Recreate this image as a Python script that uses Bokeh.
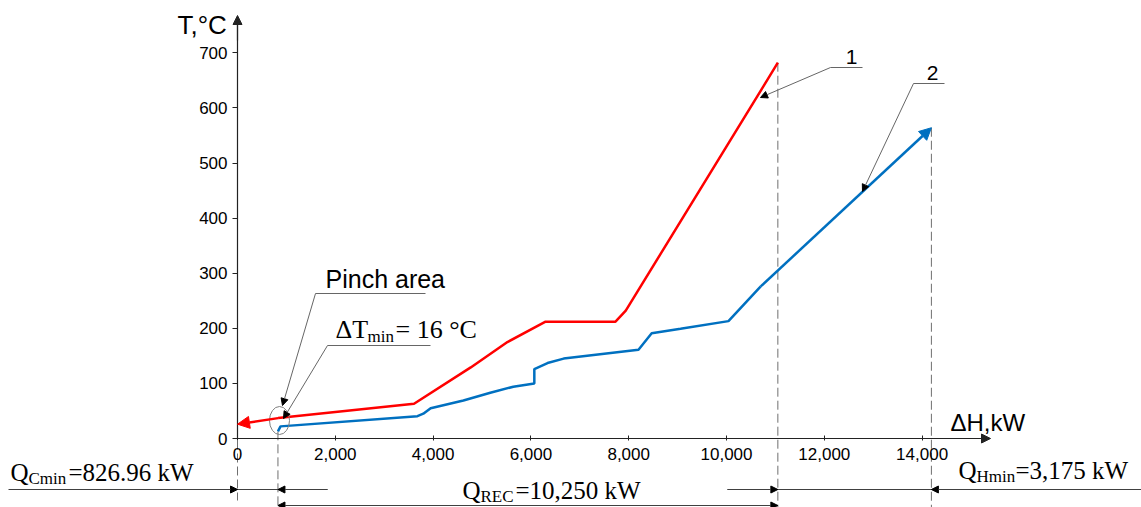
from bokeh.plotting import figure
from bokeh.models import Range1d, FixedTicker, NumeralTickFormatter, Label, Arrow, NormalHead
from bokeh.embed import file_html
from bokeh.resources import INLINE

# ---------------- data ----------------
hot_dh = [0, 830, 3610, 4770, 5520, 6300, 7730, 7940, 11050]
hot_t = [26, 37, 63, 129, 175, 212, 212, 232, 682]

cold_dh = [826.96, 880, 3680, 3800, 3950, 4620, 5170, 5640, 6070, 6070, 6340, 6670, 8200, 8470, 9060, 10040, 10700, 14190]
cold_t = [13, 22, 40.5, 45, 55, 69, 83, 94, 100, 126, 137, 145, 161, 191, 199, 213, 276, 564]

x_ticks = [0, 2000, 4000, 6000, 8000, 10000, 12000, 14000]
y_ticks = [0, 100, 200, 300, 400, 500, 600, 700]

q_cmin = 826.96
q_rec_end = 11050
q_hmin_end = 14190

RED = "#FF0000"
BLUE = "#0070C0"
SANS = "Liberation Sans"
SERIF = "Liberation Serif"

# page-pixel -> data helpers (for annotation placement)
X0, KX = 237.0, 0.0489
Y0, KY = 438.0, 0.551


def dx(px):
    return (px - X0) / KX


def dy(py):
    return (Y0 - py) / KY


W, H = 1141, 507
p = figure(width=W, height=H, output_backend="svg", toolbar_location=None,
           x_range=Range1d(dx(0), dx(W)), y_range=Range1d(dy(H), dy(0)),
           min_border=0, min_border_left=0, min_border_right=0,
           min_border_top=0, min_border_bottom=0)
p.outline_line_color = None
p.xgrid.visible = False
p.ygrid.visible = False
p.background_fill_color = "white"
p.border_fill_color = "white"

# axes at fixed locations
for ax in (p.xaxis[0], p.yaxis[0]):
    ax.fixed_location = 0
    ax.axis_line_color = "#222222"
    ax.axis_line_width = 1.2
    ax.major_tick_line_color = "#222222"
    ax.minor_tick_line_color = None
    ax.major_label_text_font = SANS
    ax.major_label_text_font_size = "17px"
    ax.major_label_text_color = "black"

p.xaxis[0].ticker = FixedTicker(ticks=x_ticks)
p.xaxis[0].formatter = NumeralTickFormatter(format="0,0")
p.xaxis[0].bounds = (0, dx(988))
p.xaxis[0].major_tick_in = 3
p.xaxis[0].major_tick_out = 2
p.xaxis[0].major_label_standoff = 7

p.yaxis[0].ticker = FixedTicker(ticks=y_ticks)
p.yaxis[0].bounds = (0, dy(17))
p.yaxis[0].major_tick_in = 0
p.yaxis[0].major_tick_out = 5
p.yaxis[0].major_label_standoff = 5

# axis arrowheads
p.add_layout(Arrow(end=NormalHead(size=9, fill_color="#222222", line_color="#222222"),
                   x_start=0, y_start=dy(40), x_end=0, y_end=dy(15),
                   line_color="#222222", line_width=1.2))
p.add_layout(Arrow(end=NormalHead(size=9, fill_color="#222222", line_color="#222222"),
                   x_start=dx(960), y_start=0, x_end=dx(990), y_end=0,
                   line_color="#222222", line_width=1.2))

# dashed verticals
DASH = "#6f6f6f"
p.segment(x0=[0], y0=[dy(440)], x1=[0], y1=[dy(500)], line_color=DASH, line_dash="9 4", line_width=1)
p.segment(x0=[q_cmin], y0=[cold_t[0]], x1=[q_cmin], y1=[dy(507)], line_color=DASH, line_dash="9 4", line_width=1)
p.segment(x0=[q_rec_end], y0=[hot_t[-1]], x1=[q_rec_end], y1=[dy(507)], line_color=DASH, line_dash="9 4", line_width=1)
p.segment(x0=[q_hmin_end], y0=[cold_t[-1]], x1=[q_hmin_end], y1=[dy(507)], line_color=DASH, line_dash="9 4", line_width=1)

# composite curves
p.line(hot_dh[1:], hot_t[1:], line_color=RED, line_width=2.5)
p.add_layout(Arrow(end=NormalHead(size=12, fill_color=RED, line_color=RED),
                   x_start=hot_dh[1], y_start=hot_t[1], x_end=hot_dh[0], y_end=hot_t[0],
                   line_color=RED, line_width=2.5))
p.line(cold_dh[:-1], cold_t[:-1], line_color=BLUE, line_width=2.5)
p.add_layout(Arrow(end=NormalHead(size=12, fill_color=BLUE, line_color=BLUE),
                   x_start=cold_dh[-2], y_start=cold_t[-2], x_end=cold_dh[-1], y_end=cold_t[-1],
                   line_color=BLUE, line_width=2.5))

# pinch ellipse
p.ellipse(x=[dx(279)], y=[dy(420)], width=20, height=28, width_units="screen",
          height_units="screen", fill_alpha=0, line_color="#808080", line_width=1)

LEAD = "#666666"


def leader(hx0, hx1, hy, tipx, tipy):
    p.segment(x0=[dx(hx0)], y0=[dy(hy)], x1=[dx(hx1)], y1=[dy(hy)], line_color=LEAD, line_width=1)
    p.add_layout(Arrow(end=NormalHead(size=7, fill_color="black", line_color="black"),
                       x_start=dx(hx0), y_start=dy(hy), x_end=dx(tipx), y_end=dy(tipy),
                       line_color=LEAD, line_width=1))


leader(315, 425, 293, 282, 405)
leader(327, 430, 345, 283, 418)
leader(830, 862, 67, 760, 97)
leader(913, 944, 83, 862, 191)


def label(px, base, text, size, font=SANS, align="left"):
    # base = baseline in page pixels; place by vertical middle of the em box
    p.add_layout(Label(x=dx(px), y=dy(base - 0.34 * size), text=text, text_font=font,
                       text_font_size=f"{size}px", text_align=align,
                       text_baseline="middle", text_color="black"))


label(177, 33, "T,°C", 26)
label(950, 430, "ΔH,kW", 24)
label(851, 64, "1", 21, align="center")
label(932, 80, "2", 21, align="center")
label(325, 287, "Pinch area", 25)

# ΔTmin = 16 °C
label(335, 338, "ΔT", 26, SERIF)
label(367, 342, "min", 17, SERIF)
label(395, 338, "= 16 °C", 26, SERIF)

# QCmin
label(10, 480, "Q", 25, SERIF)
label(28, 484, "Cmin", 17, SERIF)
label(68, 480, "=826.96 kW", 25, SERIF)

# QREC
label(462, 498, "Q", 25, SERIF)
label(480, 502, "REC", 17, SERIF)
label(515, 498, "=10,250 kW", 25, SERIF)

# QHmin
label(958, 478, "Q", 25, SERIF)
label(976, 482, "Hmin", 17, SERIF)
label(1015, 478, "=3,175 kW", 25, SERIF)

# dimension lines
DIM = "#404040"


def head(sx, tx, y):
    p.add_layout(Arrow(end=NormalHead(size=7, fill_color="black", line_color="black"),
                       x_start=sx, y_start=dy(y), x_end=tx, y_end=dy(y),
                       line_color=DIM, line_width=1))


p.segment(x0=[dx(8)], y0=[dy(489)], x1=[dx(327)], y1=[dy(489)], line_color=DIM, line_width=1)
head(dx(200), 0, 489)
head(dx(327), q_cmin, 489)

p.segment(x0=[q_cmin], y0=[dy(505)], x1=[q_rec_end], y1=[dy(505)], line_color=DIM, line_width=1)
head(dx(400), q_cmin, 505)
head(dx(700), q_rec_end, 505)

p.segment(x0=[dx(727)], y0=[dy(489)], x1=[dx(1141)], y1=[dy(489)], line_color=DIM, line_width=1)
head(dx(727), q_rec_end, 489)
head(dx(1100), q_hmin_end, 489)

open("out.html", "w").write(file_html(p, INLINE))
